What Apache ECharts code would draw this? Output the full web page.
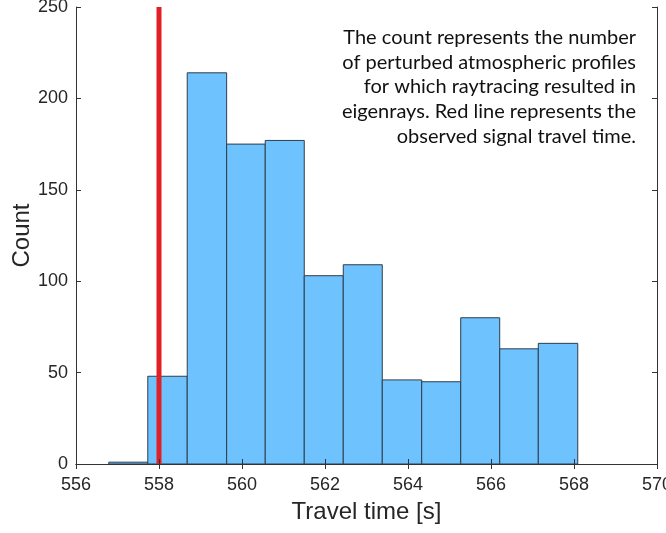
<!DOCTYPE html>
<html>
<head>
<meta charset="utf-8">
<script src="https://cdn.jsdelivr.net/npm/echarts@6/dist/echarts.min.js"></script>
<style>html,body{margin:0;padding:0;background:#fff;}#c{width:666px;height:533px;}</style>
</head>
<body>
<div id="c"></div>
<script>
const binEdges = [556.79, 557.73, 558.68, 559.63, 560.56, 561.50, 562.44, 563.38, 564.33, 565.27, 566.21, 567.14, 568.09];
const counts = [1, 48, 214, 175, 177, 103, 109, 46, 45, 80, 63, 66];
const observedTime = 558.0;
const xTicks = [556, 558, 560, 562, 564, 566, 568, 570];
const yTicks = [0, 50, 100, 150, 200, 250];
const noteLines = [
  'The count represents the number',
  'of perturbed atmospheric profiles',
  'for which raytracing resulted in',
  'eigenrays. Red line represents the',
  'observed signal travel time.'
];

const histData = counts.map((c, i) => [binEdges[i], binEdges[i + 1], c]);

const chart = echarts.init(document.getElementById('c'), null, {renderer: 'canvas'});
const axisColor = '#333333';
const labelFont = "'Liberation Sans', Arial, sans-serif";

const baseX = {
  type: 'value', min: xTicks[0], max: xTicks[xTicks.length - 1], interval: 2,
  splitLine: {show: false}, z: 10,
  axisLine: {show: true, lineStyle: {color: axisColor, width: 1}},
  axisTick: {show: true, inside: true, length: 5, lineStyle: {color: axisColor}}
};
const baseY = {
  type: 'value', min: yTicks[0], max: yTicks[yTicks.length - 1], interval: 50,
  splitLine: {show: false}, z: 10,
  axisLine: {show: true, lineStyle: {color: axisColor, width: 1}},
  axisTick: {show: true, inside: true, length: 5, lineStyle: {color: axisColor}}
};

chart.setOption({
  animation: false,
  backgroundColor: '#ffffff',
  grid: {left: 76, right: 9, top: 7, bottom: 69, outerBoundsMode: 'none', containLabel: false},
  xAxis: [
    Object.assign({}, baseX, {
      position: 'bottom',
      name: 'Travel time [s]', nameLocation: 'middle', nameGap: 36, nameMoveOverlap: false,
      nameTextStyle: {fontFamily: labelFont, fontSize: 24, color: '#262626'},
      axisLabel: {fontFamily: labelFont, fontSize: 18, color: '#262626', margin: 12}
    }),
    Object.assign({}, baseX, {position: 'top', axisLabel: {show: false}})
  ],
  yAxis: [
    Object.assign({}, baseY, {
      position: 'left',
      name: 'Count', nameLocation: 'middle', nameGap: 42, nameRotate: 90, nameMoveOverlap: false,
      nameTextStyle: {fontFamily: labelFont, fontSize: 24, color: '#262626'},
      axisLabel: {fontFamily: labelFont, fontSize: 18, color: '#262626', margin: 8}
    }),
    Object.assign({}, baseY, {position: 'right', axisLabel: {show: false}})
  ],
  series: [
    {
      type: 'custom',
      xAxisIndex: 0, yAxisIndex: 0,
      data: histData,
      encode: {x: [0, 1], y: 2},
      renderItem: function (params, api) {
        const p0 = api.coord([api.value(0), api.value(2)]);
        const p1 = api.coord([api.value(1), 0]);
        return {
          type: 'rect',
          shape: {x: p0[0], y: p0[1], width: p1[0] - p0[0], height: p1[1] - p0[1]},
          style: {fill: '#6EC2FE', stroke: '#2E3D4C', lineWidth: 1}
        };
      },
      z: 2
    },
    {
      type: 'line',
      xAxisIndex: 0, yAxisIndex: 0,
      data: [[observedTime, yTicks[0]], [observedTime, yTicks[yTicks.length - 1]]],
      symbol: 'none',
      lineStyle: {color: '#E11F26', width: 5},
      z: 5
    }
  ],
  graphic: [{
    type: 'text',
    x: 636, y: 25,
    z: 20,
    style: {
      text: noteLines.join('\n'),
      align: 'right',
      verticalAlign: 'top',
      fontFamily: "Lato, 'Open Sans', sans-serif",
      fontSize: 20,
      lineHeight: 24.7,
      fill: '#111111'
    }
  }]
});
</script>
</body>
</html>
